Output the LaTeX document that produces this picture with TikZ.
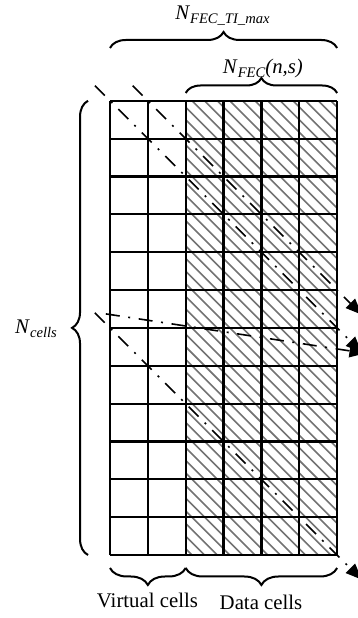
\documentclass[tikz,border=0pt]{standalone}
\usepackage{fontspec}
\setmainfont{Liberation Serif}
\usetikzlibrary{arrows.meta,decorations.pathreplacing}
\newcommand{\sidx}[1]{\raisebox{-2pt}{\fontsize{7.3}{8}\selectfont\itshape #1}}
\begin{document}
\begin{tikzpicture}[x=18.925pt,y=18.925pt,
      font=\fontsize{10.4}{12}\selectfont,
      cellgrid/.style={line width=1.1pt},
      hatchline/.style={black!55,line width=0.8pt},
      dashdot/.style={line width=0.8pt,
        dash pattern=on 7pt off 4.3pt on 1pt off 4.3pt,
        -{Triangle[length=8pt,width=6.5pt]}},
      bracemark/.style={line width=1pt,decorate,
        decoration={brace,amplitude=#1}}]
      \useasboundingbox (-2.906,-1.664) rectangle (6.526,14.663);
      % data cells
      \begin{scope}
        \clip (2,0) rectangle (6,12);
        \foreach \k in {0,...,48}
          \draw[hatchline] (-10+1/6+\k/3,12) -- ++(12,-12);
      \end{scope}
      \foreach \i in {0,...,6}
        \draw[cellgrid] (\i,0) -- (\i,12);
      \foreach \j in {0,...,12}
        \draw[cellgrid] (0,\j) -- (6,\j);
      % interleaving lines
      \coordinate (a1) at (-0.4,12.4);
      \coordinate (a2) at (6.65,5.35);
      \coordinate (b1) at (0.6,12.4);
      \coordinate (b2) at (6.65,6.35);
      \coordinate (c1) at (-0.4,6.4);
      \coordinate (c2) at (6.65,-0.65);
      \coordinate (d1) at (-0.11,6.37);
      \coordinate (d2) at (6.75,5.33);
      \draw[dashdot] (a1) -- (a2);
      \draw[dashdot] (b1) -- (b2);
      \draw[dashdot] (c1) -- (c2);
      \draw[dashdot] (d1) -- (d2);
      % braces
      \coordinate (maxL) at (0,13.395);
      \coordinate (maxR) at (6,13.395);
      \coordinate (fecL) at (2,12.206);
      \coordinate (fecR) at (6,12.206);
      \coordinate (cellsB) at (-0.58,0);
      \coordinate (cellsT) at (-0.58,12);
      \coordinate (virtL) at (0,-0.343);
      \coordinate (virtR) at (2,-0.343);
      \coordinate (dataR) at (6,-0.343);
      \draw[bracemark=8pt] (maxL) -- (maxR);
      \draw[bracemark=7.5pt] (fecL) -- (fecR);
      \draw[bracemark=8pt] (cellsB) -- (cellsT);
      \draw[bracemark=8.5pt] (virtR) -- (virtL);
      \draw[bracemark=8.5pt] (dataR) -- (virtR);
      \path (2.97,14.135) node[anchor=base] (maxlabel) {\textit{N}\sidx{FEC\_TI\_max}};
      \path (4.04,12.73) node[anchor=base] (feclabel) {\textit{N}\sidx{FEC}\textit{(n,s)}};
      \path (-1.955,5.865) node[anchor=base] (cellslabel) {\textit{N}\sidx{cells}};
      \path (0.99,-1.374) node[anchor=base] (virtlabel) {Virtual cells};
      \path (3.99,-1.45) node[anchor=base] (datalabel) {Data cells};
     \end{tikzpicture}
\end{document}
